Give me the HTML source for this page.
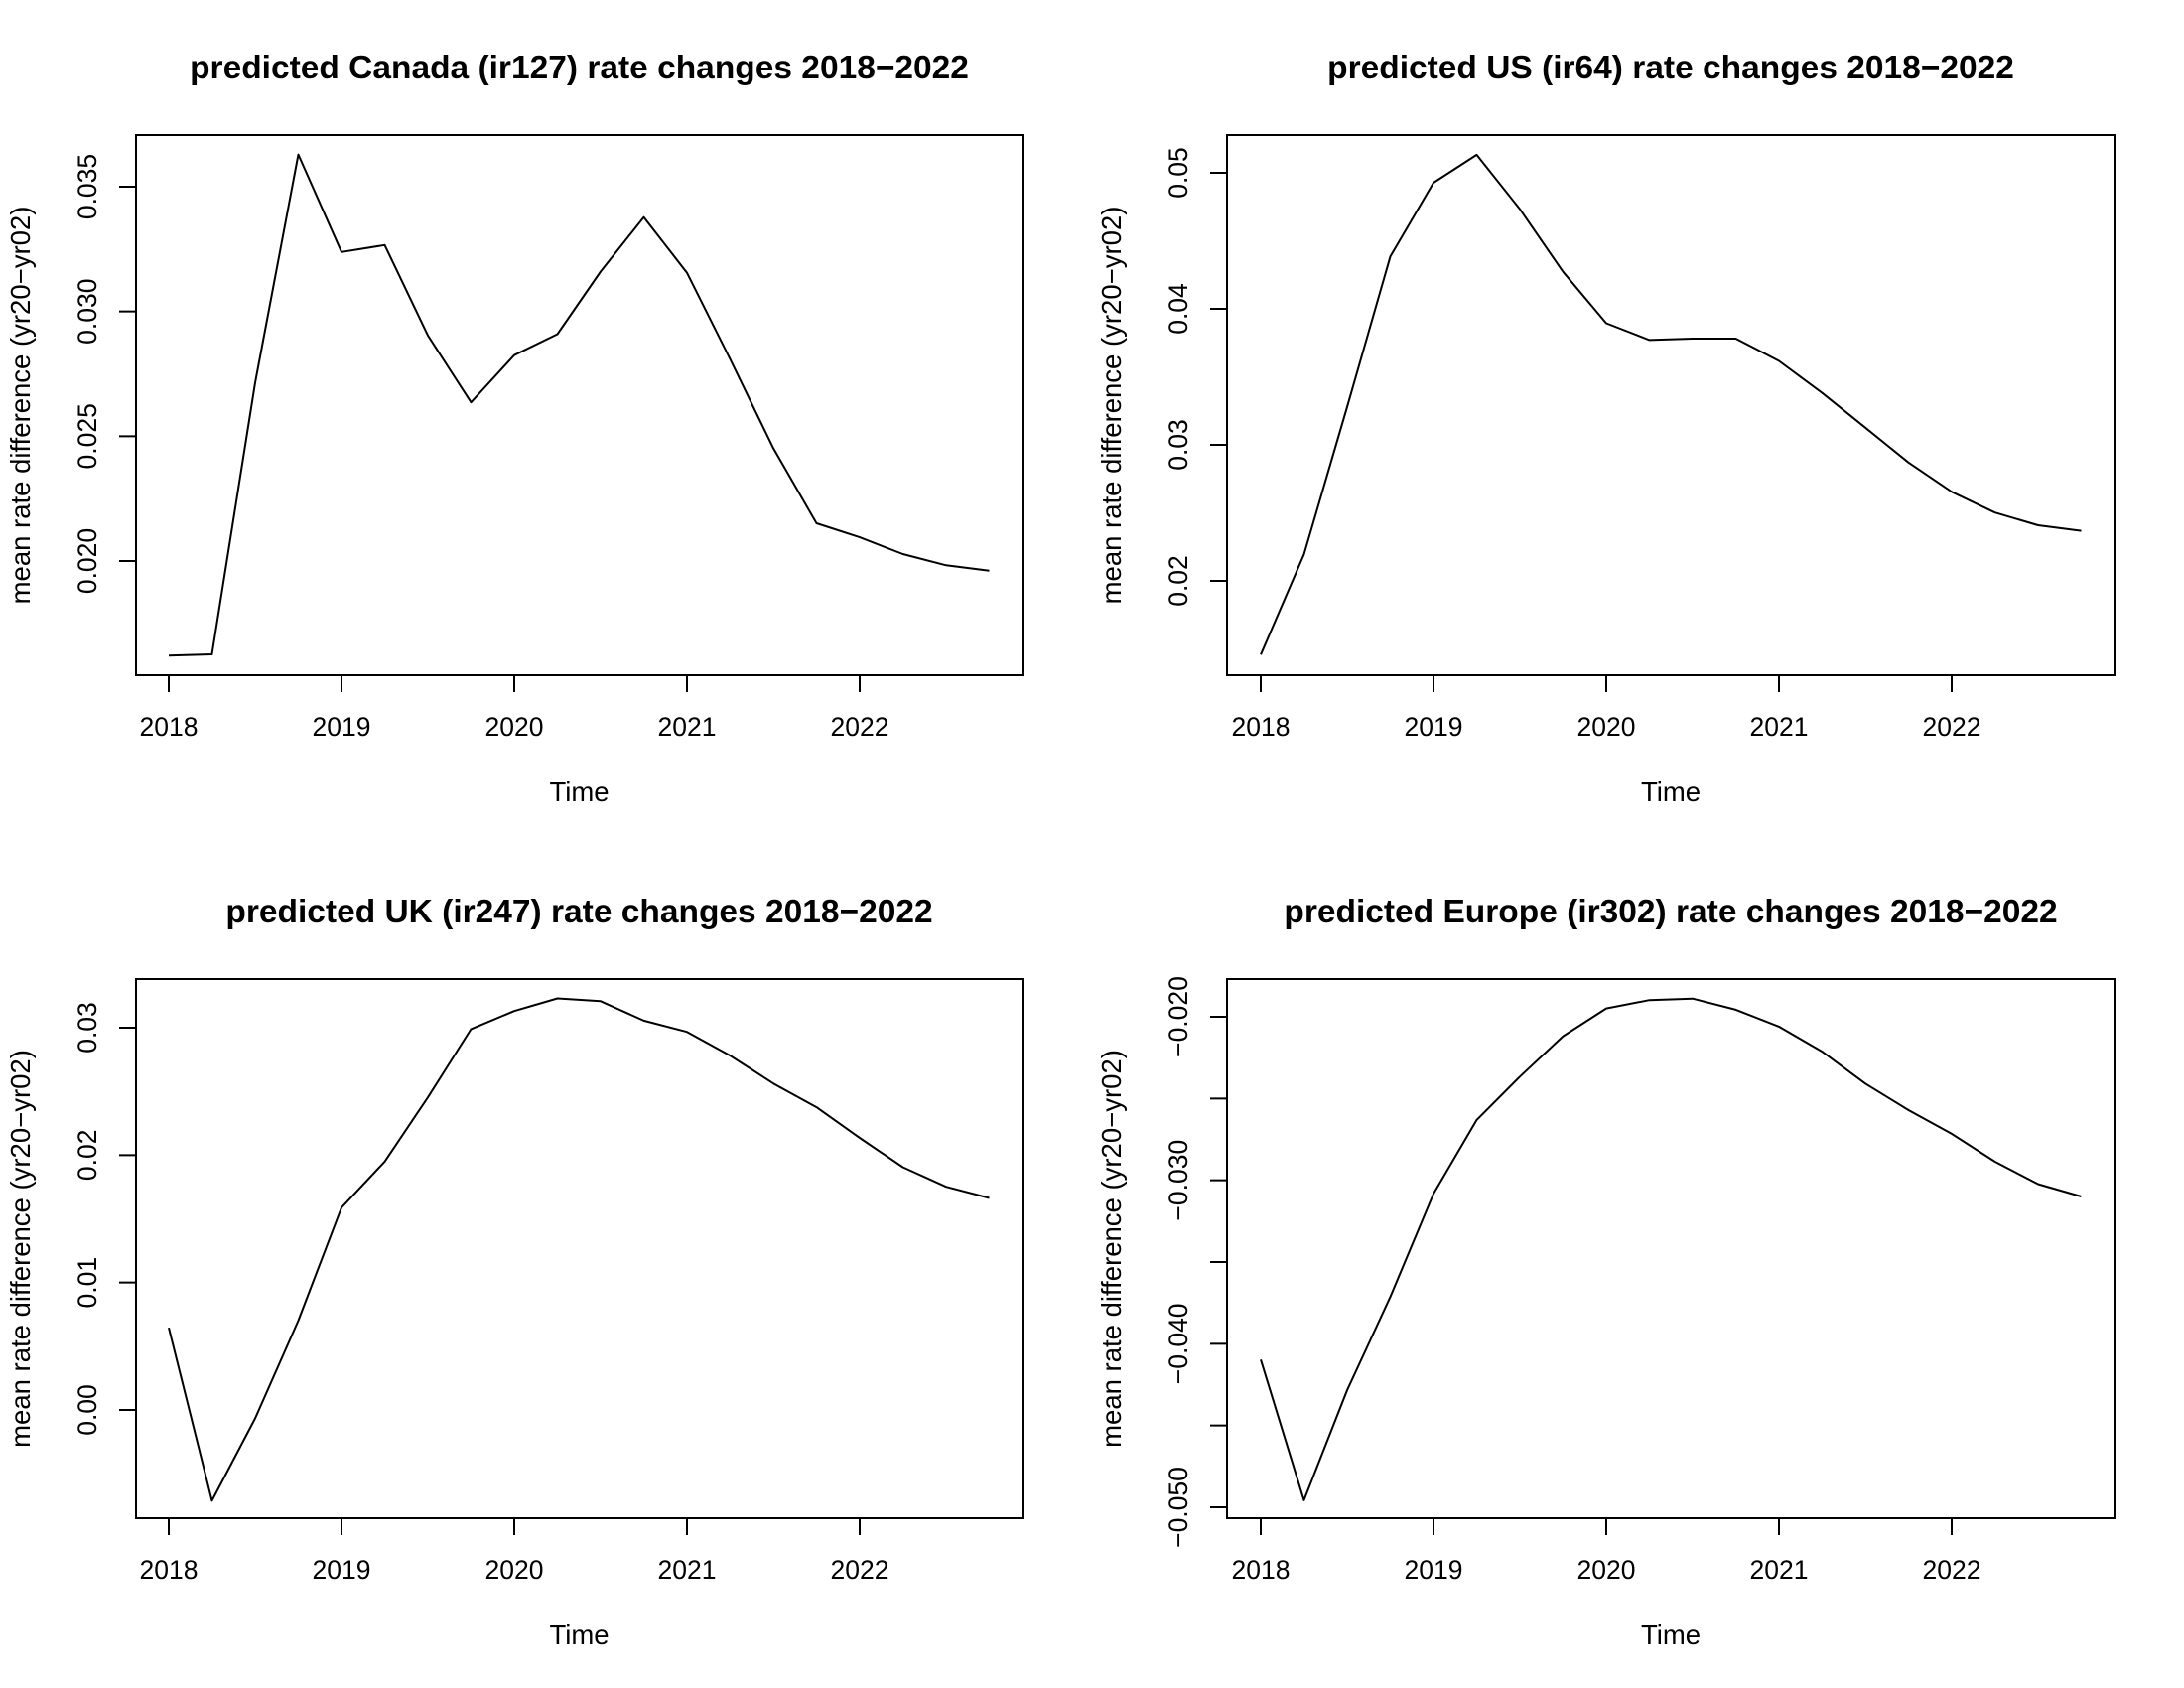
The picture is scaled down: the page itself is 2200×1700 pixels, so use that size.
<!DOCTYPE html>
<html><head><meta charset="utf-8"><style>
html,body{margin:0;padding:0;background:#fff;}
svg{display:block;font-family:"Liberation Sans",sans-serif;}
</style></head><body>
<svg id="chart" width="2200" height="1700" viewBox="0 0 2200 1700" xmlns="http://www.w3.org/2000/svg"></svg>
<script>
const times = [2018,2018.25,2018.5,2018.75,2019,2019.25,2019.5,2019.75,2020,2020.25,2020.5,2020.75,2021,2021.25,2021.5,2021.75,2022,2022.25,2022.5,2022.75];
const xTicks = [2018,2019,2020,2021,2022];
const canadaValues = [0.01621,0.01626,0.02714,0.03629,0.03238,0.03266,0.02904,0.02636,0.02825,0.02909,0.03160,0.03378,0.03155,0.02809,0.02452,0.02151,0.02095,0.02028,0.01983,0.01961];
const usValues = [0.01458,0.02194,0.03279,0.04385,0.04927,0.05132,0.04733,0.04272,0.03894,0.03771,0.03781,0.03781,0.03617,0.03382,0.03126,0.02870,0.02655,0.02502,0.02409,0.02368];
const ukValues = [0.00646,-0.00712,-0.00066,0.00701,0.01588,0.01949,0.02453,0.02989,0.03131,0.03230,0.03208,0.03055,0.02967,0.02781,0.02562,0.02376,0.02135,0.01905,0.01752,0.01664];
const europeValues = [-0.04097,-0.04957,-0.04284,-0.03713,-0.03082,-0.02631,-0.02366,-0.02119,-0.01949,-0.01898,-0.01889,-0.01957,-0.02060,-0.02213,-0.02409,-0.02571,-0.02716,-0.02886,-0.03023,-0.03099];
const canadaTicks = [0.020,0.025,0.030,0.035];
const canadaTickLabels = ["0.020","0.025","0.030","0.035"];
const usTicks = [0.02,0.03,0.04,0.05];
const usTickLabels = ["0.02","0.03","0.04","0.05"];
const ukTicks = [0.00,0.01,0.02,0.03];
const ukTickLabels = ["0.00","0.01","0.02","0.03"];
const europeTicks = [-0.050,-0.045,-0.040,-0.035,-0.030,-0.025,-0.020];
const europeTickLabels = ["\u22120.050","","\u22120.040","","\u22120.030","","\u22120.020"];

const NS = "http://www.w3.org/2000/svg";
const svg = document.getElementById('chart');
function mk(tag, attrs, parent){
  const e = document.createElementNS(NS, tag);
  for (const k in attrs) e.setAttribute(k, attrs[k]);
  (parent||svg).appendChild(e);
  return e;
}
function panel(cfg){
  const g = mk('g', {});
  
  
  const X = t => cfg.x0 + (t - 2018) * (cfg.x1 - cfg.x0) / 4;
  const Y = v => cfg.ya + (v - cfg.va) * (cfg.yb - cfg.ya) / (cfg.vb - cfg.va);
  const box = mk('rect', {x:cfg.bl, y:cfg.bt, width:cfg.br-cfg.bl, height:cfg.bb-cfg.bt, fill:'none', stroke:'#000', 'stroke-width':2}, g);
  
  
  const title = mk('text', {x:(cfg.bl+cfg.br)/2, y:cfg.bt-57, 'text-anchor':'middle', 'font-size':33.5, 'font-weight':'bold'}, g);
  title.textContent = cfg.title;
  
  
  xTicks.forEach(t => {
    const tk = mk('line', {x1:X(t), x2:X(t), y1:cfg.bb, y2:cfg.bb+17, stroke:'#000', 'stroke-width':2}, g);
    
    
    const lb = mk('text', {x:X(t), y:cfg.bb+61, 'text-anchor':'middle', 'font-size':26.5}, g);
    lb.textContent = String(t);
    
    
  });
  const xa = mk('line', {x1:X(2018), x2:X(2022), y1:cfg.bb, y2:cfg.bb, stroke:'#000', 'stroke-width':2}, g);
  
  
  const xt = mk('text', {x:(cfg.bl+cfg.br)/2, y:cfg.bb+127, 'text-anchor':'middle', 'font-size':27.5}, g);
  xt.textContent = 'Time';
  
  
  cfg.ticks.forEach((v, i) => {
    const tk = mk('line', {x1:cfg.bl-17, x2:cfg.bl, y1:Y(v), y2:Y(v), stroke:'#000', 'stroke-width':2}, g);
    
    
    if (cfg.labels[i]) {
      const lx = cfg.bl - 40, ly = Y(v);
      const lb = mk('text', {x:lx, y:ly, 'text-anchor':'middle', 'font-size':26.5, transform:`rotate(-90 ${lx} ${ly})`}, g);
      lb.textContent = cfg.labels[i];
      
      
    }
  });
  const ya = mk('line', {x1:cfg.bl, x2:cfg.bl, y1:Y(cfg.ticks[0]), y2:Y(cfg.ticks[cfg.ticks.length-1]), stroke:'#000', 'stroke-width':2}, g);
  
  
  const yx = cfg.bl - 107, yy = (cfg.bt+cfg.bb)/2;
  const yt = mk('text', {x:yx, y:yy, 'text-anchor':'middle', 'font-size':27.5, transform:`rotate(-90 ${yx} ${yy})`}, g);
  yt.textContent = 'mean rate difference (yr20\u2212yr02)';
  
  
  const d = cfg.values.map((v, i) => (i ? 'L' : 'M') + X(times[i]).toFixed(1) + ' ' + Y(v).toFixed(1)).join(' ');
  const p = mk('path', {d:d, fill:'none', stroke:'#000', 'stroke-width':2, 'stroke-linejoin':'round'}, g);
  
  
}
panel({name:'canada-panel', title:'predicted Canada (ir127) rate changes 2018\u22122022', values:canadaValues, ticks:canadaTicks, labels:canadaTickLabels,
  bl:137, br:1030, bt:136, bb:680, x0:170, x1:866, va:0.035, ya:188, vb:0.020, yb:565});
panel({name:'us-panel', title:'predicted US (ir64) rate changes 2018\u22122022', values:usValues, ticks:usTicks, labels:usTickLabels,
  bl:1236, br:2130, bt:136, bb:680, x0:1270, x1:1966, va:0.05, ya:174, vb:0.02, yb:585});
panel({name:'uk-panel', title:'predicted UK (ir247) rate changes 2018\u22122022', values:ukValues, ticks:ukTicks, labels:ukTickLabels,
  bl:137, br:1030, bt:986, bb:1529, x0:170, x1:866, va:0.03, ya:1035, vb:0.00, yb:1420});
panel({name:'europe-panel', title:'predicted Europe (ir302) rate changes 2018\u22122022', values:europeValues, ticks:europeTicks, labels:europeTickLabels,
  bl:1236, br:2130, bt:986, bb:1529, x0:1270, x1:1966, va:-0.020, ya:1024, vb:-0.050, yb:1518});
</script>
</body></html>
